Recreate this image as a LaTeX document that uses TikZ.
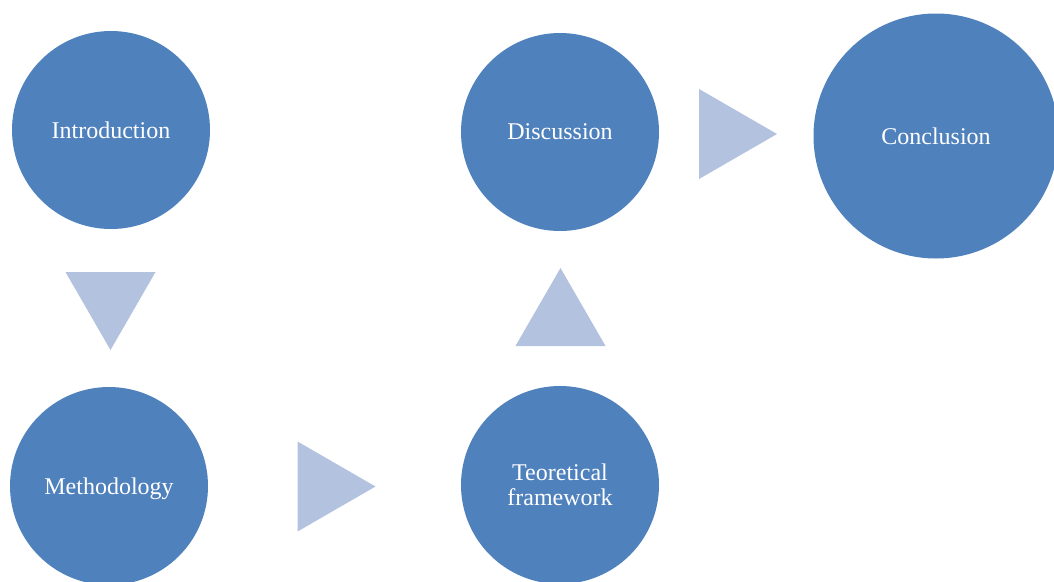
\documentclass[tikz,border=0pt]{standalone}
\usepackage{fontspec}
\setmainfont{Liberation Serif}
\usetikzlibrary{shapes.geometric}
\definecolor{stepblue}{HTML}{4F81BD}
\definecolor{arrowblue}{HTML}{B3C2DE}
\begin{document}
\begin{tikzpicture}[x=1pt, y=-1pt,
    stage/.style={circle, fill=stepblue, text=white, align=center, inner sep=0pt,
      minimum size=198pt, font=\fontsize{24}{25}\selectfont},
    pointer/.style={regular polygon, regular polygon sides=3, fill=arrowblue,
      inner sep=0pt, minimum size=104pt}]
  \useasboundingbox (0,0) rectangle (1054,581);
  \node[stage] (intro) at (111, 130) {Introduction};
  \node[stage, text depth=0pt] (method) at (109, 486) {Methodology};
  \node[stage] (theory) at (560, 485) {Teoretical\\framework};
  \node[stage] (discuss) at (560, 132) {Discussion};
  \node[stage, minimum size=245pt] (concl) at (936, 136) {Conclusion};

  \node[pointer, shape border rotate=180] (p1) at (110.5, 298) {};
  \node[pointer, shape border rotate=-90] (p2) at (323.5, 486.5) {};
  \node[pointer] (p3) at (560.5, 320) {};
  \node[pointer, shape border rotate=-90] (p4) at (725, 134) {};
\end{tikzpicture}
\end{document}
